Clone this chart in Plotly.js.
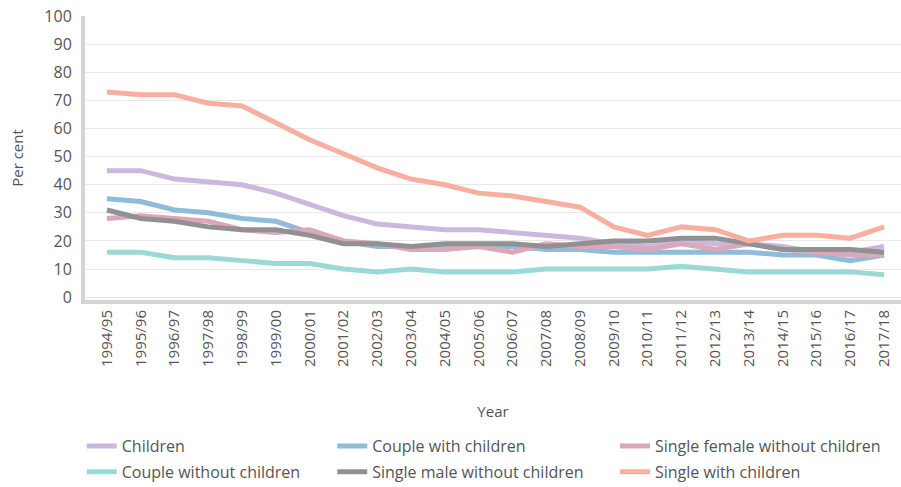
<!DOCTYPE html>
<html>
<head>
<meta charset="utf-8">
<script src="https://cdn.plot.ly/plotly-3.0.1.min.js"></script>
<style>html,body{margin:0;padding:0;background:#fff;}#chart{width:901px;height:487px;}</style>
</head>
<body>
<div id="chart"></div>
<script>
const years = ["1994/95","1995/96","1996/97","1997/98","1998/99","1999/00","2000/01","2001/02","2002/03","2003/04","2004/05","2005/06","2006/07","2007/08","2008/09","2009/10","2010/11","2011/12","2012/13","2013/14","2014/15","2015/16","2016/17","2017/18"];
const children = [45,45,42,41,40,37,33,29,26,25,24,24,23,22,21,19,18,20,19,19,18,16,16,18];
const coupleWithChildren = [35,34,31,30,28,27,23,20,18,18,18,18,18,17,17,16,16,16,16,16,15,15,13,15];
const singleFemaleNoChildren = [28,29,28,27,24,23,24,20,19,17,17,18,16,19,18,18,17,19,17,19,17,16,15,15];
const coupleNoChildren = [16,16,14,14,13,12,12,10,9,10,9,9,9,10,10,10,10,11,10,9,9,9,9,8];
const singleMaleNoChildren = [31,28,27,25,24,24,22,19,19,18,19,19,19,18,19,20,20,21,21,19,17,17,17,16];
const singleWithChildren = [73,72,72,69,68,62,56,51,46,42,40,37,36,34,32,25,22,25,24,20,22,22,21,25];

const seriesNames = ["Children","Couple with children","Single female without children","Couple without children","Single male without children","Single with children"];
const seriesData = [children, coupleWithChildren, singleFemaleNoChildren, coupleNoChildren, singleMaleNoChildren, singleWithChildren];
const colors = ["#cbb8dd","#8fbcda","#dba7b9","#9ad9d6","#919193","#f9af9f"];
const legendIds = ["legend","legend2","legend3","legend","legend2","legend3"];

const idx = years.map((_, i) => i);
const traces = seriesNames.map((n, k) => ({
  type: "scatter", mode: "lines", name: n,
  x: idx, y: seriesData[k],
  line: {color: colors[k], width: 5, shape: "linear"},
  legend: legendIds[k], legendgroup: "g" + k,
  hoverinfo: "none"
}));

const font = "'Open Sans', sans-serif";
const legBase = {orientation: "v", yref: "container", yanchor: "top", y: 0.119, xanchor: "left",
  font: {family: font, size: 16, color: "#555"}, bgcolor: "rgba(0,0,0,0)", tracegroupgap: 2, itemwidth: 30};

const layout = {
  width: 901, height: 487,
  margin: {l: 85, r: 0, t: 16, b: 187},
  paper_bgcolor: "#fff", plot_bgcolor: "#fff",
  font: {family: font, color: "#555"},
  xaxis: {
    range: [-0.65, 23.5], tickmode: "array", tickvals: idx, ticktext: years,
    tickangle: -90, tickfont: {family: font, size: 15, color: "#555"},
    showgrid: false, zeroline: false, showline: true, linecolor: "#d4d4d4", linewidth: 4,
    ticks: "", ticklen: 0,
    title: {text: "Year", font: {family: font, size: 15, color: "#555"}, standoff: 42}
  },
  yaxis: {
    range: [-1, 100], tickvals: [0,10,20,30,40,50,60,70,80,90,100],
    tickfont: {family: font, size: 16, color: "#555"}, ticklabelstandoff: 6,
    showgrid: true, gridcolor: "#e8e8e8", gridwidth: 1, zeroline: false,
    showline: true, linecolor: "#d4d4d4", linewidth: 4, ticks: "", ticklen: 0,
    title: {text: "Per cent", font: {family: font, size: 15, color: "#555"}, standoff: 18}
  },
  showlegend: true,
  legend: Object.assign({}, legBase, {x: -0.004}),
  legend2: Object.assign({}, legBase, {x: 0.303}),
  legend3: Object.assign({}, legBase, {x: 0.6495})
};

Plotly.newPlot("chart", traces, layout, {displayModeBar: false, staticPlot: true});
</script>
</body>
</html>
